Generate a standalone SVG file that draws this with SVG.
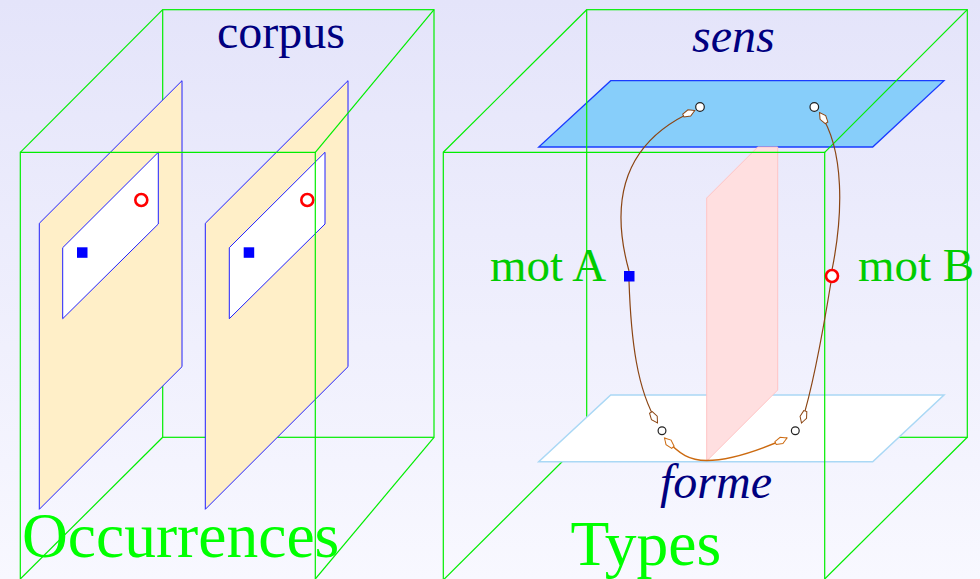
<svg xmlns="http://www.w3.org/2000/svg" width="980" height="579" viewBox="0 0 980 579">
  <defs>
    <linearGradient id="bg" x1="0" y1="0" x2="0" y2="1">
      <stop offset="0" stop-color="#e4e4fa"/>
      <stop offset="1" stop-color="#f8f8ff"/>
    </linearGradient>
    <marker id="arrB" markerUnits="userSpaceOnUse" viewBox="-15 -6 17 12" refX="0" refY="0" markerWidth="17" markerHeight="12" orient="auto-start-reverse">
      <path d="M0,0 L-6,-3.4 L-12.5,-1.6 L-12.5,1.6 L-6,3.4 Z" fill="#ffffff" stroke="#8b4513" stroke-width="1"/>
    </marker>
    <marker id="arrO" markerUnits="userSpaceOnUse" viewBox="-15 -6 17 12" refX="0" refY="0" markerWidth="17" markerHeight="12" orient="auto-start-reverse">
      <path d="M0,0 L-6,-3.4 L-12.5,-1.6 L-12.5,1.6 L-6,3.4 Z" fill="#ffffff" stroke="#cc6a10" stroke-width="1"/>
    </marker>
  </defs>
  <style>
    .box { fill: none; stroke: #00ee00; stroke-width: 1.2; }
    .page { fill: #ffefc8; stroke: #2020ff; stroke-width: 1; }
    .sheet { fill: #ffffff; stroke: #2020ff; stroke-width: 1; }
    .sq { fill: #0000ff; }
    .rc { fill: #ffffff; stroke: #ff0000; stroke-width: 2.6; }
    .pt { fill: #ffffff; stroke: #222222; stroke-width: 1.2; }
    .lbl { font-family: "Liberation Serif", "Times New Roman", serif; fill: #000080; font-size: 48px; }
    .it { font-style: italic; }
    .big { font-family: "Liberation Serif", "Times New Roman", serif; fill: #00ff00; font-size: 63.5px; }
    .mot { font-family: "Liberation Serif", "Times New Roman", serif; fill: #00cc00; font-size: 47px; }
    .cb { fill: none; stroke: #8b4513; stroke-width: 1.2; }
    .co { fill: none; stroke: #cc6a10; stroke-width: 1.4; }
  </style>
  <rect x="0" y="0" width="980" height="579" fill="url(#bg)"/>

  <!-- LEFT: Occurrences -->
  <g id="corpus-box-back">
    <rect class="box" x="162.7" y="9.7" width="271.3" height="427.6"/>
  </g>
  <g id="doc1">
    <polygon class="page" points="39.3,223.3 182,80.7 182,366.7 39.3,509.3"/>
    <polygon class="sheet" points="62.7,247.7 158.3,152.3 158.3,224 62.7,318.7"/>
    <rect class="sq" x="77" y="247.3" width="10.5" height="10.5"/>
    <circle class="rc" cx="141.3" cy="200" r="6"/>
  </g>
  <g id="doc2">
    <polygon class="page" points="205.3,223.3 348,80.7 348,366.7 205.3,509.3"/>
    <polygon class="sheet" points="229.3,247.7 325,152.3 325,224 229.3,318.7"/>
    <rect class="sq" x="243.7" y="247.3" width="10.5" height="10.5"/>
    <circle class="rc" cx="307.3" cy="200" r="6"/>
  </g>
  <g id="corpus-box-front">
    <polyline class="box" points="20.3,580 20.3,152.3 315.3,152.3 315.3,580"/>
    <line class="box" x1="20.3" y1="152.3" x2="162.7" y2="9.7"/>
    <line class="box" x1="315.3" y1="152.3" x2="434" y2="9.7"/>
    <line class="box" x1="20.3" y1="579" x2="162.7" y2="437.3"/>
    <line class="box" x1="315.3" y1="579" x2="434" y2="437.3"/>
  </g>
  <g id="label-corpus">
    <text class="lbl" x="217" y="48">corpus</text>
  </g>
  <g id="label-occurrences">
    <text class="big" x="22" y="557">Occurrences</text>
  </g>

  <!-- RIGHT: Types -->
  <g id="plane-sens">
    <polygon points="610.7,80.7 944,80.7 872.7,147 538.7,147" fill="#87cefa" stroke="#1a3cff" stroke-width="1.3"/>
  </g>
  <g id="types-box-back">
    <rect class="box" x="586.7" y="9.7" width="380.6" height="427.6"/>
    <line class="box" x1="443.3" y1="580" x2="586.7" y2="437.3"/>
  </g>
  <g id="plane-forme">
    <polygon points="610.7,395 944,395 872.7,461.7 538.7,461.7" fill="#ffffff" stroke="#aad8f5" stroke-width="1.5"/>
  </g>
  <g id="plane-pink">
    <polygon points="706.7,198 757.7,147 777.7,147 777.7,390 706.7,461" fill="#ffdfe0" stroke="#ffc4c4" stroke-width="1"/>
  </g>
  <g id="types-box-front">
    <polyline class="box" points="443.3,580 443.3,152.3 824.7,152.3 824.7,580"/>
    <line class="box" x1="443.3" y1="152.3" x2="586.7" y2="9.7"/>
    <line class="box" x1="824.7" y1="152.3" x2="967.3" y2="9.7"/>
    <line class="box" x1="824.7" y1="579" x2="967.3" y2="437.3"/>
  </g>

  <g id="connectors">
    <path class="cb" d="M629,271 C608,195 628,140 694.8,110.5" marker-end="url(#arrB)"/>
    <path class="cb" d="M629,281 C631,340 637,390 657.5,423" marker-end="url(#arrB)"/>
    <path class="cb" d="M832,270 C843,215 845,150 819.5,112.5" marker-end="url(#arrB)"/>
    <path class="cb" d="M831,282 C824,325 812,390 801.5,423" marker-end="url(#arrB)"/>
    <path class="co" d="M664.5,438 C680,455 690,460.5 706.7,460.5 C730,460.5 760,450 787,438" marker-start="url(#arrO)" marker-end="url(#arrO)"/>
  </g>

  <g id="sens-A"><circle class="pt" cx="700" cy="107" r="4.3"/></g>
  <g id="sens-B"><circle class="pt" cx="814.3" cy="107" r="4.3"/></g>
  <g id="forme-A"><circle class="pt" cx="662" cy="430.7" r="3.9"/></g>
  <g id="forme-B"><circle class="pt" cx="795.3" cy="430.7" r="3.9"/></g>

  <g id="mot-A">
    <rect class="sq" x="624" y="271" width="10.5" height="10.5"/>
    <text class="mot" x="490" y="281">mot A</text>
  </g>
  <g id="mot-B">
    <circle class="rc" cx="832" cy="276" r="6"/>
    <text class="mot" x="858" y="281">mot B</text>
  </g>
  <g id="label-sens">
    <text class="lbl it" x="692" y="51.5">sens</text>
  </g>
  <g id="label-forme">
    <text class="lbl it" x="660" y="498">forme</text>
  </g>
  <g id="label-types">
    <text class="big" x="570.5" y="565">Types</text>
  </g>
</svg>
